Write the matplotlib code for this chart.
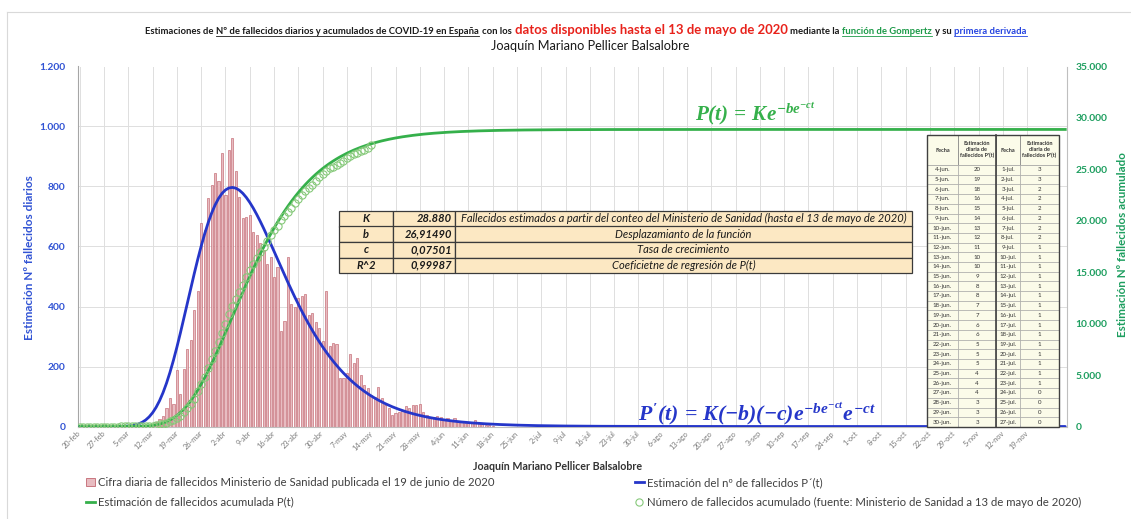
import numpy as np
import matplotlib
matplotlib.use("Agg")
import matplotlib.pyplot as plt
from matplotlib.patches import Rectangle, Patch
from matplotlib.lines import Line2D

W, H = 1131, 519
FONT = ['Lato', 'DejaVu Sans']
plt.rcParams['font.family'] = FONT
plt.rcParams['mathtext.fontset'] = 'custom'
plt.rcParams['mathtext.it'] = 'Liberation Serif:italic:bold'
plt.rcParams['mathtext.rm'] = 'Liberation Serif:italic:bold'
plt.rcParams['mathtext.bf'] = 'Liberation Serif:italic:bold'
plt.rcParams['mathtext.default'] = 'it'

# ---------------- DATA ----------------
n_categories = 285          # 20-feb ... 30-nov (daily categories)
tick_step = 7
tick_labels = ['20-feb', '27-feb', '5-mar', '12-mar', '19-mar', '26-mar', '2-abr', '9-abr',
               '16-abr', '23-abr', '30-abr', '7-may', '14-may', '21-may', '28-may', '4-jun',
               '11-jun', '18-jun', '25-jun', '2-jul', '9-jul', '16-jul', '23-jul', '30-jul',
               '6-ago', '13-ago', '20-ago', '27-ago', '3-sep', '10-sep', '17-sep', '24-sep',
               '1-oct', '8-oct', '15-oct', '22-oct', '29-oct', '5-nov', '12-nov', '19-nov']

K, b, c, R2 = 28880, 26.91490, 0.07501, 0.99987

left_ticks = [0, 200, 400, 600, 800, 1000, 1200]
right_ticks = [0, 5000, 10000, 15000, 20000, 25000, 30000, 35000]

# daily deaths (Ministerio de Sanidad, publicada 19-jun), first bar on day index 20
daily_first_day = 20
daily_deaths = [4, 8, 15, 24, 34, 61, 95, 74, 190, 107,
                193, 260, 288, 390, 452, 678, 655, 760, 805, 845,
                818, 913, 770, 922, 960, 850, 765, 694, 698, 704,
                648, 637, 610, 587, 543, 564, 497, 531, 318, 352,
                566, 410, 400, 430, 436, 441, 372, 380, 349, 330,
                285, 453, 270, 279, 274, 162, 162, 179, 242, 212,
                227, 173, 140, 128, 106, 100, 131, 95, 73, 61,
                39, 45, 50, 56, 67, 61, 73, 73, 75, 50,
                39, 28, 31, 35, 31, 22, 28, 22, 30, 17,
                15, 11, 15, 15, 22, 11, 8, 5, 4, 3]

# cumulative deaths from 20-feb (Ministerio de Sanidad a 13 de mayo)
cum_deaths = [0, 0, 0, 0, 0, 0, 0, 0, 0, 0,
              0, 0, 1, 2, 3, 5, 10, 17, 28, 35,
              54, 84, 120, 195, 289, 342, 533, 623, 830, 1043,
              1375, 1772, 2182, 2696, 3434, 4089, 4858, 5690, 6528, 7340,
              8189, 9053, 10003, 10935, 11744, 12418, 13055, 13798, 14555, 15238,
              15843, 16353, 16972, 17489, 18056, 18579, 19130, 19478, 20043, 20453,
              20852, 21282, 21717, 22157, 22524, 22902, 23190, 23521, 23822, 24275,
              24543, 24824, 25100, 25264, 25428, 25613, 25857, 26070, 26299, 26478,
              26621, 26744, 26920, 27104, 27321]

param_names = ['K', 'b', 'c', 'R^2']
param_desc = ['Fallecidos estimados a partir del conteo del Ministerio de Sanidad (hasta el 13 de mayo de 2020)',
              'Desplazamianto de la función', 'Tasa de crecimiento', 'Coeficietne de regresión de P(t)']

table_dates_a = ['4-jun.', '5-jun.', '6-jun.', '7-jun.', '8-jun.', '9-jun.', '10-jun.', '11-jun.', '12-jun.',
                 '13-jun.', '14-jun.', '15-jun.', '16-jun.', '17-jun.', '18-jun.', '19-jun.', '20-jun.',
                 '21-jun.', '22-jun.', '23-jun.', '24-jun.', '25-jun.', '26-jun.', '27-jun.', '28-jun.',
                 '29-jun.', '30-jun.']
table_vals_a = [20, 19, 18, 16, 15, 14, 13, 12, 11, 10, 10, 9, 8, 8, 7, 7, 6, 6, 5, 5, 5, 4, 4, 4, 3, 3, 3]
table_dates_b = ['1-jul.', '2-jul.', '3-jul.', '4-jul.', '5-jul.', '6-jul.', '7-jul.', '8-jul.', '9-jul.',
                 '10-jul.', '11-jul.', '12-jul.', '13-jul.', '14-jul.', '15-jul.', '16-jul.', '17-jul.',
                 '18-jul.', '19-jul.', '20-jul.', '21-jul.', '22-jul.', '23-jul.', '24-jul.', '25-jul.',
                 '26-jul.', '27-jul.']
table_vals_b = [3, 3, 2, 2, 2, 2, 2, 2, 1, 1, 1, 1, 1, 1, 1, 1, 1, 1, 1, 1, 1, 1, 1, 0, 0, 0, 0]

legend_labels = ['Cifra diaria de fallecidos Ministerio de Sanidad publicada el 19 de junio de 2020',
                 'Estimación de fallecidos acumulada P(t)',
                 'Estimación del nº de fallecidos P´(t)',
                 'Número de fallecidos acumulado (fuente: Ministerio de Sanidad a 13 de mayo de 2020)']

# ---------------- STYLE ----------------
BLUE = '#2536c9'
BLUE_TXT = '#3153d4'
GREEN = '#35b04b'
GREEN_TXT = '#1d9e5f'
CIRC = '#86c97a'
BAR_FACE = '#e8bcc1'
BAR_EDGE = '#c26670'
GRID = '#dedede'


def fx(x):
    return x / W


def fy(y):
    return 1 - y / H


def thousands(v):
    return f"{v:,}".replace(',', '.')


fig = plt.figure(figsize=(W / 100, H / 100), dpi=100)
fig.patch.set_facecolor('white')
renderer = fig.canvas.get_renderer()


def measure(s, size, **kw):
    tt = fig.text(0, 0, s, fontsize=size, **kw)
    w = tt.get_window_extent(renderer=renderer).width
    tt.remove()
    return w


def fit_size(s, target, size=10, **kw):
    return size * target / measure(s, size, **kw)


AX_L, AX_R, AX_T, AX_B = 78, 1067, 66.5, 426.5
ax = fig.add_axes([fx(AX_L), fy(AX_B), (AX_R - AX_L) / W, (AX_B - AX_T) / H])
ax2 = ax.twinx()

ax.set_xlim(-0.5, n_categories - 0.5)
ax.set_ylim(left_ticks[0], left_ticks[-1])
ax2.set_ylim(right_ticks[0], right_ticks[-1])

bar_x = np.arange(daily_first_day, daily_first_day + len(daily_deaths))
ax.bar(bar_x, daily_deaths, width=0.62, color=BAR_FACE, edgecolor=BAR_EDGE, linewidth=0.45, zorder=2)

t = np.arange(n_categories, dtype=float)
P = K * np.exp(-b * np.exp(-c * t))
dP = K * b * c * np.exp(-c * t) * np.exp(-b * np.exp(-c * t))
ax.plot(t, dP, color=BLUE, lw=2.0, zorder=3, solid_capstyle='round')
ax2.plot(t, P, color=GREEN, lw=2.0, zorder=3)
ax2.plot(np.arange(len(cum_deaths)), cum_deaths, ls='none', marker='o', ms=5.2,
         mfc='none', mec=CIRC, mew=0.8, zorder=4)

ax.set_xticks(np.arange(0, len(tick_labels) * tick_step, tick_step))
ax.set_xticklabels(tick_labels, rotation=45, ha='right', va='center', rotation_mode='anchor',
                   fontsize=5.3, color='#7a7a7a')
ax.tick_params(axis='x', length=0, pad=4)
ax.set_yticks(left_ticks)
ax.set_yticklabels([thousands(v) for v in left_ticks])
ax.tick_params(axis='y', length=0, pad=9, labelsize=7.4, labelcolor=BLUE_TXT)
for lb in ax.get_yticklabels():
    lb.set_fontweight('bold')
ax2.set_yticks(right_ticks)
ax2.set_yticklabels([thousands(v) for v in right_ticks])
ax2.tick_params(axis='y', length=0, pad=6, labelsize=7.4, labelcolor=GREEN_TXT)
for lb in ax2.get_yticklabels():
    lb.set_fontweight('bold')

ax.grid(True, color=GRID, lw=0.7)
ax.set_axisbelow(True)
ax2.grid(False)
for s in ['top', 'right']:
    ax.spines[s].set_visible(False)
for s in ['top', 'left', 'bottom']:
    ax2.spines[s].set_visible(False)
ax.spines['left'].set_color('#a6a6a6')
ax.spines['bottom'].set_color('#bfbfbf')
ax2.spines['right'].set_color('#bfbfbf')

# axis titles
s_l = 'Estimación Nº fallecidos diarios'
fig.text(fx(30), fy(258), s_l, rotation=90, ha='center', va='center', color=BLUE_TXT,
         fontsize=fit_size(s_l, 165, fontweight='bold'), fontweight='bold')
s_r = 'Estimación Nº fallecidos acumulado'
fig.text(fx(1123), fy(245), s_r, rotation=90, ha='center', va='center', color=GREEN_TXT,
         fontsize=fit_size(s_r, 185, fontweight='bold'), fontweight='bold')
s_x = 'Joaquín Mariano Pellicer Balsalobre'
fig.text(fx(558), fy(466), s_x, ha='center', va='center',
         fontsize=fit_size(s_x, 170, fontweight='bold'), fontweight='bold', color='#333333')

# frame of the chart area
fig.add_artist(Line2D([fx(7), fx(7)], [fy(12), fy(519)], transform=fig.transFigure, color='#d9d9d9', lw=0.8))
fig.add_artist(Line2D([fx(7), fx(1131)], [fy(12), fy(12)], transform=fig.transFigure, color='#d9d9d9', lw=0.8))

# ---------------- TITLE ----------------
title_pieces = [
    ("Estimaciones de", '#1a1a1a', 7.0, False),
    ("Nº de fallecidos diarios y acumulados de COVID-19 en España", '#1a1a1a', 7.0, True),
    ("con los", '#1a1a1a', 7.0, False),
    ("datos disponibles hasta el 13 de mayo de 2020", '#e8221b', 9.6, False),
    ("mediante la", '#1a1a1a', 7.0, False),
    ("función de Gompertz", '#1c9a48', 7.0, True),
    ("y su", '#1a1a1a', 7.0, False),
    ("primera derivada", '#2443e0', 7.0, True),
]


def layout_title(scale, draw):
    base_y = 34.5
    widths = []
    objs = []
    for s, col, sz, ul in title_pieces:
        tt = fig.text(0, fy(base_y), s, color=col, fontsize=sz * scale, fontweight='bold',
                      ha='left', va='baseline')
        widths.append(tt.get_window_extent(renderer=renderer).width)
        objs.append(tt)
    gap = 2.8 * scale
    total = sum(widths) + gap * (len(widths) - 1)
    if not draw:
        for o in objs:
            o.remove()
        return total
    x = 586 - total / 2
    for o, w, (s, col, sz, ul) in zip(objs, widths, title_pieces):
        o.set_x(fx(x))
        if ul:
            fig.add_artist(Line2D([fx(x), fx(x + w)], [fy(base_y + 1.8), fy(base_y + 1.8)],
                                  transform=fig.transFigure, color=col, lw=0.6))
        x += w + gap
    return total


tot = layout_title(1.0, False)
layout_title(888.0 / tot, True)
s_a = 'Joaquín Mariano Pellicer Balsalobre'
fig.text(fx(590), fy(46), s_a, ha='center', va='center',
         fontsize=fit_size(s_a, 200), color='#1a1a1a')

# ---------------- FORMULAS ----------------
f1 = r"$P(t)\,=\,Ke^{-be^{-ct}}$"
fig.text(fx(695), fy(120), f1, color=GREEN, fontsize=fit_size(f1, 122),
         ha='left', va='baseline')
f2 = r"$P'(t)\,=\,K(-b)(-c)e^{-be^{-ct}}e^{-ct}$"
fig.text(fx(638), fy(420), f2, color=BLUE, fontsize=fit_size(f2, 240),
         ha='left', va='baseline')


# ---------------- PARAMETER TABLE ----------------
def cell(x0, y0, x1, y1, face, edge, lw):
    fig.add_artist(Rectangle((fx(x0), fy(y1)), (x1 - x0) / W, (y1 - y0) / H,
                             transform=fig.transFigure, facecolor=face, edgecolor=edge, lw=lw))


pcols = [339, 393, 455, 912]
prow_top, prow_h = 211, 15.5
param_vals = [thousands(K), f"{b:.5f}".replace('.', ','), f"{c:.5f}".replace('.', ','),
              f"{R2:.5f}".replace('.', ',')]
tab_fs = fit_size(param_desc[0], 444, style='italic')
for i, (nm, val, desc) in enumerate(zip(param_names, param_vals, param_desc)):
    y0 = prow_top + i * prow_h
    y1 = y0 + prow_h
    for j in range(3):
        cell(pcols[j], y0, pcols[j + 1], y1, '#fce8c3', '#3a3a3a', 0.9)
    ym = fy((y0 + y1) / 2)
    fig.text(fx((pcols[0] + pcols[1]) / 2), ym, nm, ha='center', va='center', fontsize=tab_fs,
             fontweight='bold', style='italic', color='#1a1a1a')
    fig.text(fx(pcols[2] - 3), ym, val, ha='right', va='center', fontsize=tab_fs,
             fontweight='bold', style='italic', color='#1a1a1a')
    fig.text(fx((pcols[2] + pcols[3]) / 2), ym, desc, ha='center', va='center', fontsize=tab_fs,
             style='italic', color='#1a1a1a')

# ---------------- DAILY ESTIMATE TABLE ----------------
tcols = [927, 958, 996, 1020, 1059]
thead_top, thead_bot = 135, 165
trow_h = 9.7
TFACE = '#fbfbe9'
for j in range(4):
    cell(tcols[j], thead_top, tcols[j + 1], thead_bot, TFACE, '#7f7f7f', 0.5)
    txt = 'Fecha' if j % 2 == 0 else "Estimación\ndiaria de\nfallecidos P'(t)"
    fig.text(fx((tcols[j] + tcols[j + 1]) / 2), fy((thead_top + thead_bot) / 2), txt,
             ha='center', va='center', fontsize=4.0, fontweight='bold', color='#333333',
             linespacing=1.2)
for i in range(len(table_vals_a)):
    y0 = thead_bot + i * trow_h
    y1 = y0 + trow_h
    row = [table_dates_a[i], str(table_vals_a[i]), table_dates_b[i], str(table_vals_b[i])]
    for j in range(4):
        cell(tcols[j], y0, tcols[j + 1], y1, TFACE, '#a0a0a0', 0.4)
        fig.text(fx((tcols[j] + tcols[j + 1]) / 2), fy((y0 + y1) / 2), row[j], ha='center',
                 va='center', fontsize=4.4, color='#333333')
tbot = thead_bot + len(table_vals_a) * trow_h
fig.add_artist(Rectangle((fx(tcols[0]), fy(tbot)), (tcols[-1] - tcols[0]) / W, (tbot - thead_top) / H,
                         transform=fig.transFigure, facecolor='none', edgecolor='#404040', lw=1.0))
fig.add_artist(Line2D([fx(tcols[2]), fx(tcols[2])], [fy(thead_top), fy(tbot)], transform=fig.transFigure,
                      color='#404040', lw=1.2))

# ---------------- LEGEND ----------------
leg_fs = fit_size(legend_labels[3], 436)
h_bar = Patch(facecolor=BAR_FACE, edgecolor=BAR_EDGE, lw=0.6)
h_green = Line2D([], [], color=GREEN, lw=2)
h_blue = Line2D([], [], color=BLUE, lw=2)
h_circ = Line2D([], [], ls='none', marker='o', ms=5.2, mfc='none', mec=CIRC, mew=0.8)
leg_kw = dict(loc='upper left', frameon=False, fontsize=leg_fs, handlelength=0.75, handletextpad=0.3,
              labelspacing=0.75, borderaxespad=0, borderpad=0, labelcolor='#404040', handleheight=0.7)
fig.legend([h_bar, h_green], legend_labels[:2], bbox_to_anchor=(fx(86), fy(477)), **leg_kw)
fig.legend([h_blue, h_circ], legend_labels[2:], bbox_to_anchor=(fx(635), fy(477)), **leg_kw)

fig.savefig('out.png', dpi=100)
